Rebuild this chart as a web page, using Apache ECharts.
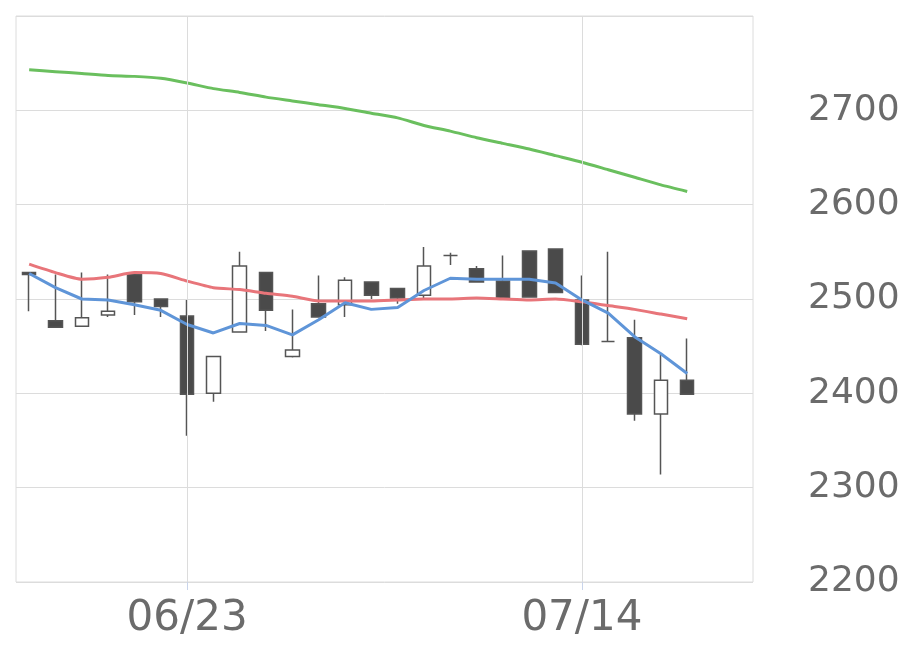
<!DOCTYPE html>
<html>
<head>
<meta charset="utf-8">
<script src="https://cdn.jsdelivr.net/npm/echarts@6/dist/echarts.min.js"></script>
<style>html,body{margin:0;padding:0;background:#fff;}#c{width:920px;height:669px;}</style>
</head>
<body>
<div id="c"></div>
<script>
const dates = ["06/13","06/16","06/17","06/18","06/19","06/20","06/23","06/24","06/25","06/26","06/27","06/30","07/01","07/02","07/03","07/04","07/07","07/08","07/09","07/10","07/11","07/14","07/15","07/16","07/17","07/18","07/21","07/22"];
const labelDates = ["06/23","07/14"];
// [open, close, low, high]
const opens  = [2528,2477,2471,2483,2526,2500,2482,2400,2465,2528,2439,2495,2494,2518,2511,2504,2546,2532,2519,2551,2553,2499,2455,2459,2378,2414];
const closes = [2526,2470,2480,2487,2497,2492,2399,2439,2535,2488,2446,2481,2520,2504,2501,2535,2546,2518,2501,2502,2507,2452,2455,2378,2414,2399];
const lows   = [2487,2470,2471,2481,2483,2481,2355,2391,2465,2466,2438,2481,2481,2500,2495,2501,2536,2518,2501,2502,2507,2451,2455,2371,2314,2399];
const highs  = [2528,2526,2528,2526,2526,2500,2499,2439,2550,2528,2489,2525,2523,2518,2511,2555,2549,2535,2546,2551,2553,2525,2550,2478,2441,2458];
const ma5  = [2527,2512,2500,2499,2494,2488,2473,2464,2474,2472,2462,2478,2496,2489,2491,2509,2522,2521,2521,2521,2517,2499,2485,2460,2442,2421];
const ma25 = [2537,2528,2521,2523,2528,2527,2519,2512,2510,2506,2503,2498,2498,2498,2499,2500,2500,2501,2500,2499,2500,2497,2493,2489,2484,2479];
const ma75 = [2743,2741,2739,2737,2736,2734,2729,2723,2719,2714,2710,2706,2702,2697,2692,2684,2678,2671,2665,2659,2652,2645,2637,2629,2621,2614];
const yTicks = [2200,2300,2400,2500,2600,2700];

const candleData = opens.map((o,i)=>[o, closes[i], lows[i], highs[i]]);
const showIdx = (i)=> labelDates.indexOf(dates[i]) >= 0;

const chart = echarts.init(document.getElementById('c'));
chart.setOption({
  animation: false,
  backgroundColor: '#fff',
  grid: { left: 16, top: 16, right: 167, bottom: 87, show: true, borderColor: '#dcdcdc', borderWidth: 1 },
  xAxis: {
    type: 'category',
    data: dates,
    boundaryGap: true,
    axisLine: { show: false },
    axisTick: { show: true, alignWithLabel: true, interval: (i)=>showIdx(i), length: 8, lineStyle: { color: '#c9d4ea', width: 1 } },
    axisLabel: { interval: (i)=>showIdx(i), color: '#6b6b6b', fontSize: 42, fontFamily: 'DejaVu Sans', margin: 16 },
    splitLine: { show: false }
  },
  yAxis: {
    type: 'value',
    position: 'right',
    min: 2200, max: 2800, interval: 100,
    axisLine: { show: false },
    axisTick: { show: false },
    axisLabel: { color: '#6b6b6b', fontSize: 36, fontFamily: 'DejaVu Sans', margin: 55, showMaxLabel: false,
      formatter: (v)=> yTicks.indexOf(v) >= 0 ? String(v) : '' },
    splitLine: { show: true, lineStyle: { color: '#dcdcdc', width: 1 } }
  },
  series: [
    {
      type: 'candlestick',
      data: candleData,
      barWidth: 14,
      itemStyle: { color: '#ffffff', color0: '#4a4a4a', borderColor: '#555555', borderColor0: '#555555', borderWidth: 1.5 },
      markLine: {
        silent: true, symbol: 'none', label: { show: false },
        lineStyle: { color: '#dcdcdc', width: 1, type: 'solid' },
        data: labelDates.map(d => ({ xAxis: d }))
      },
      z: 3
    },
    { type: 'line', data: ma75, symbol: 'none', smooth: 0.2, lineStyle: { color: '#6abf5e', width: 3 }, z: 4 },
    { type: 'line', data: ma25, symbol: 'none', smooth: 0.2, lineStyle: { color: '#e8757a', width: 3 }, z: 4 },
    { type: 'line', data: ma5, symbol: 'none', lineStyle: { color: '#5f95d8', width: 3 }, z: 4 }
  ]
});
</script>
</body>
</html>
